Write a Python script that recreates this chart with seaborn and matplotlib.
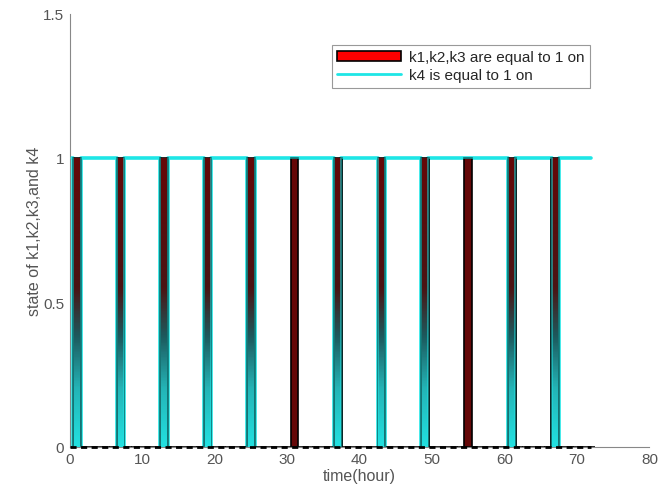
import numpy as np
import seaborn as sns
import matplotlib.pyplot as plt
from matplotlib.colors import LinearSegmentedColormap
from matplotlib.patches import Patch
from matplotlib.lines import Line2D

# data
hours = list(range(0, 73))
k123_on = [1, 7, 13, 19, 25, 31, 37, 43, 49, 55, 61, 67]
k4_off = [1, 7, 13, 19, 25, 37, 43, 49, 61, 67]

k123 = [1 if h in k123_on else 0 for h in hours]
k4 = [0 if h in k4_off else 1 for h in hours]

sns.set_theme(style="white")
plt.rcParams["font.family"] = ["Liberation Sans", "DejaVu Sans"]

fig = plt.figure(figsize=(6.58, 5.02), dpi=100)
ax = fig.add_axes([0.106, 0.108, 0.881, 0.863])

# k4 line (under the bars)
sns.lineplot(x=hours, y=k4, ax=ax, color="#1ee6e6", linewidth=2.6,
             drawstyle="steps-mid", zorder=1.5)

# bars for k1,k2,k3
ax.bar(hours, k123, width=1.05, color="#650808", edgecolor="black", linewidth=1.2, zorder=2)

# shading on bars where k4 drops (red at top fading to cyan at bottom)
cmap = LinearSegmentedColormap.from_list(
    "shade", [(0, "#22e0e0"), (0.2, "#24b4b6"), (0.38, "#1c5a5e"),
              (0.55, "#4a1414"), (1, "#650808")])
grad = np.linspace(0, 1, 100).reshape(-1, 1)
for h in k4_off:
    if k123[h] == 1:
        ax.imshow(grad, cmap=cmap, origin="lower", aspect="auto",
                  extent=[h - 0.4, h + 0.4, 0, 1], zorder=2.5)

# k4 level on top of the bar heads
ax.plot(hours, k4, color="#1ee6e6", linewidth=1.2, zorder=2.6,
        drawstyle="steps-mid", alpha=0.6)

# zero level dashes
ax.plot(hours, [0] * len(hours), color="black", linestyle=(0, (2.2, 1.6)),
        linewidth=2, zorder=4, clip_on=False)

ax.set_xlim(0, 80)
ax.set_ylim(0, 1.5)
ax.set_xticks(range(0, 81, 10))
ax.set_yticks([0, 0.5, 1, 1.5])
ax.set_yticklabels(["0", "0.5", "1", "1.5"])
ax.tick_params(direction="in", length=4, colors="#555555", labelsize=11, pad=4)
for s in ["top", "right"]:
    ax.spines[s].set_visible(False)
for s in ["left", "bottom"]:
    ax.spines[s].set_color("#888888")
    ax.spines[s].set_linewidth(0.8)

ax.set_xlabel("time(hour)", fontsize=11.5, color="#555555", labelpad=1)
ax.set_ylabel("state of k1,k2,k3,and k4", fontsize=11.5, color="#555555", labelpad=1)

handles = [Patch(facecolor="red", edgecolor="black", linewidth=1.2),
           Line2D([0], [0], color="#1ee6e6", linewidth=2)]
leg = ax.legend(handles, ["k1,k2,k3 are equal to 1 on", "k4 is equal to 1 on"],
                loc="upper right", bbox_to_anchor=(0.91, 0.945), fontsize=11,
                frameon=True, fancybox=False, framealpha=1, edgecolor="#999999",
                handlelength=4.2, handletextpad=0.5, borderpad=0.35, labelspacing=0.25)
leg.get_frame().set_linewidth(0.8)
leg.set_zorder(5)

fig.savefig("out.png", dpi=100)
